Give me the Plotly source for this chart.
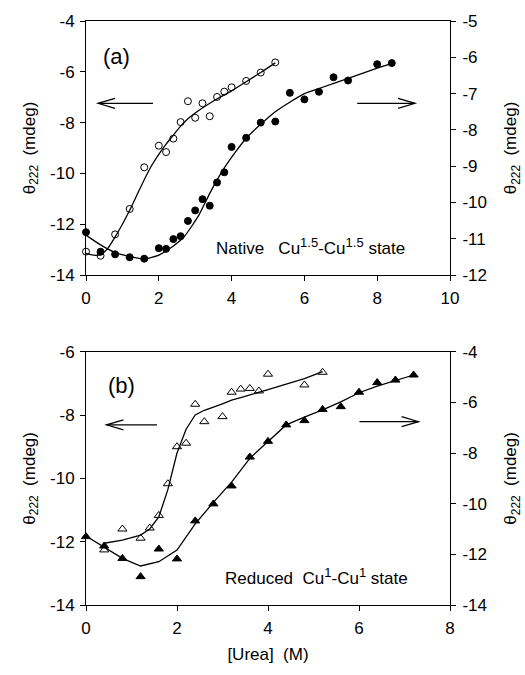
import plotly.graph_objects as go

# ---------------- data ----------------
# Panel (a): native Cu1.5-Cu1.5 state
a_open_x = [0, 0.4, 0.8, 1.2, 1.6, 2.0, 2.2, 2.4, 2.6, 2.8, 3.0, 3.2, 3.4, 3.6, 3.8, 4.0, 4.4, 4.8, 5.2]
a_open_y = [-13.08, -13.24, -12.40, -11.40, -9.76, -8.91, -9.16, -8.63, -7.98, -7.16, -7.81, -7.24, -7.75,
            -6.99, -6.78, -6.61, -6.36, -6.03, -5.63]
a_fit_open_x = [0, 0.2, 0.4, 0.6, 0.8, 1.0, 1.2, 1.4, 1.6, 1.8, 2.0, 2.2, 2.4, 2.6, 2.8, 3.0, 3.5, 4.0, 4.4, 4.8, 5.2]
a_fit_open_y = [-13.15, -13.22, -13.2, -12.95, -12.5, -12.0, -11.45, -10.85, -10.25, -9.7, -9.25, -8.85, -8.49,
                -8.14, -7.85, -7.62, -7.15, -6.75, -6.39, -6.03, -5.65]

a_fill_x = [0, 0.4, 0.8, 1.2, 1.6, 2.0, 2.2, 2.4, 2.6, 2.8, 3.0, 3.2, 3.4, 3.6, 3.8, 4.0, 4.4, 4.8, 5.2, 5.6,
            6.0, 6.4, 6.8, 7.2, 8.0, 8.4]
a_fill_y = [-10.82, -11.36, -11.43, -11.51, -11.55, -11.26, -11.28, -11.01, -10.93, -10.51, -10.22, -9.91, -10.09,
            -9.45, -9.17, -8.47, -8.22, -7.80, -7.77, -6.98, -7.16, -6.95, -6.55, -6.64, -6.19, -6.16]
a_fit_fill_x = [0, 0.4, 0.8, 1.2, 1.6, 2.0, 2.4, 2.7, 3.1, 3.4, 3.8, 4.4, 5.2, 6.0, 6.4, 7.2, 8.0, 8.4]
a_fit_fill_y = [-10.9, -11.17, -11.38, -11.49, -11.56, -11.45, -11.2, -10.94, -10.35, -9.75, -9.05, -8.23, -7.5,
                -7.0, -6.86, -6.58, -6.3, -6.17]

# Panel (b): reduced Cu1-Cu1 state
b_open_x = [0.4, 0.8, 1.2, 1.4, 1.6, 1.8, 2.0, 2.2, 2.4, 2.6, 3.0, 3.2, 3.4, 3.6, 3.8, 4.0, 4.8, 5.2]
b_open_y = [-12.26, -11.60, -11.89, -11.57, -11.17, -10.17, -9.0, -8.89, -7.66, -8.21, -8.05, -7.28, -7.18,
            -7.16, -7.24, -6.71, -7.05, -6.65]
b_fit_open_x = [0.4, 0.8, 1.2, 1.4, 1.6, 1.8, 2.0, 2.2, 2.4, 2.6, 3.0, 3.2, 3.4, 3.6, 3.8, 4.0, 4.8, 5.2]
b_fit_open_y = [-12.05, -11.95, -11.79, -11.6, -11.22, -10.35, -9.2, -8.45, -8.0, -7.85, -7.65, -7.53, -7.45,
                -7.37, -7.28, -7.2, -6.85, -6.63]

b_fill_x = [0, 0.4, 0.8, 1.2, 1.6, 2.0, 2.4, 2.8, 3.2, 3.6, 4.0, 4.4, 4.8, 5.2, 5.6, 6.0, 6.4, 6.8, 7.2]
b_fill_y = [-11.30, -11.67, -12.16, -12.88, -11.79, -12.18, -10.68, -10.01, -9.30, -8.16, -7.54, -6.89, -6.72,
            -6.28, -6.17, -5.60, -5.22, -5.12, -4.92]
b_fit_fill_x = [0, 0.4, 0.8, 1.2, 1.6, 2.0, 2.4, 2.8, 3.2, 3.6, 4.0, 4.4, 4.8, 5.2, 5.6, 6.0, 6.4, 6.8, 7.2]
b_fit_fill_y = [-11.28, -11.72, -12.16, -12.46, -12.29, -11.83, -10.8, -9.95, -9.15, -8.21, -7.55, -6.89, -6.58,
                -6.30, -5.98, -5.62, -5.36, -5.14, -4.92]

# axis ranges and tick labels (hyphen minus as in the original)
a_x_range = [0, 10]
a_yl_range = [-14, -4]
a_yr_range = [-12, -5]
b_x_range = [0, 8]
b_yl_range = [-14, -6]
b_yr_range = [-14, -4]

a_x_ticks = [0, 2, 4, 6, 8, 10]
b_x_ticks = [0, 2, 4, 6, 8]
a_yl_ticks = [-14, -12, -10, -8, -6, -4]
a_yr_ticks = [-12, -11, -10, -9, -8, -7, -6, -5]
b_yl_ticks = [-14, -12, -10, -8, -6]
b_yr_ticks = [-14, -12, -10, -8, -6, -4]

FONT = "Liberation Sans, Arial, Helvetica, sans-serif"
BLACK = "black"

def lbl(v):
    return str(v)

fig = go.Figure()

def marker_trace(x, y, symbol, xa, ya, size=7):
    return go.Scatter(x=x, y=y, mode="markers", xaxis=xa, yaxis=ya, cliponaxis=False,
                      marker=dict(symbol=symbol, size=size, color=BLACK,
                                  line=dict(color=BLACK, width=1)),
                      showlegend=False, hoverinfo="skip")

def line_trace(x, y, xa, ya, shape="linear"):
    return go.Scatter(x=x, y=y, mode="lines", xaxis=xa, yaxis=ya, cliponaxis=False,
                      line=dict(color=BLACK, width=1.3, shape=shape, smoothing=0.6),
                      showlegend=False, hoverinfo="skip")

# panel (a)
fig.add_trace(line_trace(a_fit_open_x, a_fit_open_y, "x", "y", "spline"))
fig.add_trace(marker_trace(a_open_x, a_open_y, "circle-open", "x", "y"))
fig.add_trace(line_trace(a_fit_fill_x, a_fit_fill_y, "x", "y2", "spline"))
fig.add_trace(marker_trace(a_fill_x, a_fill_y, "circle", "x", "y2"))
# panel (b)
fig.add_trace(line_trace(b_fit_open_x, b_fit_open_y, "x2", "y3"))
fig.add_trace(marker_trace(b_open_x, b_open_y, "triangle-up-open", "x2", "y3", 8))
fig.add_trace(line_trace(b_fit_fill_x, b_fit_fill_y, "x2", "y4"))
fig.add_trace(marker_trace(b_fill_x, b_fill_y, "triangle-up", "x2", "y4", 8))

# ---------------- layout ----------------
W, H = 525, 675
ML, MR, MT, MB = 86, 75, 21, 70
PW = W - ML - MR
PH = H - MT - MB
a_dom = [(605 - 275) / PH, 1.0]
b_dom = [0.0, (605 - 351.7) / PH]

tickfont = dict(family=FONT, size=17, color=BLACK)
titlefont = dict(family=FONT, size=17, color=BLACK)

def xax(rng, anchor, ticks, title=None):
    d = dict(range=rng, domain=[0, 1], anchor=anchor, showgrid=False, zeroline=False,
             showline=True, linecolor=BLACK, linewidth=1, mirror=True,
             ticks="outside", ticklen=5, tickwidth=1, tickcolor=BLACK,
             tickmode="array", tickvals=ticks, ticktext=[lbl(t) for t in ticks],
             tickfont=tickfont, ticklabelstandoff=3, automargin=False)
    if title:
        d["title"] = dict(text=title, font=titlefont, standoff=10)
    return d

def yax(rng, dom, anchor, side, ticks, standoff, tls, overlaying=None):
    d = dict(range=rng, domain=dom, anchor=anchor, side=side, showgrid=False, zeroline=False,
             showline=True, linecolor=BLACK, linewidth=1,
             ticks="outside", ticklen=5, tickwidth=1, tickcolor=BLACK,
             tickmode="array", tickvals=ticks, ticktext=[lbl(t) for t in ticks],
             tickfont=tickfont, automargin=False, ticklabelstandoff=tls,
             title=dict(text="θ<sub>222</sub>  (mdeg)", font=titlefont, standoff=standoff))
    if overlaying:
        d["overlaying"] = overlaying
    return d

fig.update_layout(
    width=W, height=H, autosize=False,
    margin=dict(l=ML, r=MR, t=MT, b=MB, pad=0),
    paper_bgcolor="white", plot_bgcolor="white",
    font=dict(family=FONT, color=BLACK),
    xaxis=xax(a_x_range, "y", a_x_ticks),
    xaxis2=xax(b_x_range, "y3", b_x_ticks, "[Urea]  (M)"),
    yaxis=yax(a_yl_range, a_dom, "x", "left", a_yl_ticks, 10, 2),
    yaxis2=yax(a_yr_range, a_dom, "x", "right", a_yr_ticks, 18, 3, "y"),
    yaxis3=yax(b_yl_range, b_dom, "x2", "left", b_yl_ticks, 10, 2),
    yaxis4=yax(b_yr_range, b_dom, "x2", "right", b_yr_ticks, 18, 3, "y3"),
)

SUP = "<sup><span style='font-size:13px'>{}</span></sup>"

# panel labels and state texts
fig.add_annotation(x=0.85, y=-5.38, xref="x", yref="y", text="(a)", showarrow=False,
                   font=dict(family=FONT, size=22, color=BLACK))
fig.add_annotation(x=0.77, y=-7.08, xref="x2", yref="y3", text="(b)", showarrow=False,
                   font=dict(family=FONT, size=22, color=BLACK))
fig.add_annotation(x=3.52, y=-12.86, xref="x", yref="y", xanchor="left",
                   text="Native   Cu" + SUP.format("1.5") + "-Cu" + SUP.format("1.5") + " state",
                   showarrow=False, font=dict(family=FONT, size=17, color=BLACK))
fig.add_annotation(x=3.01, y=-13.1, xref="x2", yref="y3", xanchor="left",
                   text="Reduced  Cu" + SUP.format("1") + "-Cu" + SUP.format("1") + " state",
                   showarrow=False, font=dict(family=FONT, size=17, color=BLACK))

# arrows with open V heads
def arrow(x0, x1, y, xref, yref, xrng, yrng, ph):
    sx = (xrng[1] - xrng[0]) / PW
    sy = (yrng[1] - yrng[0]) / ph
    dirn = 1 if x1 > x0 else -1
    back = x1 - dirn * 17 * sx
    dy = 5 * sy
    ln = dict(color=BLACK, width=1.2)
    fig.add_shape(type="line", x0=x0, x1=x1, y0=y, y1=y, xref=xref, yref=yref, line=ln)
    fig.add_shape(type="path", path=f"M {back},{y + dy} L {x1},{y} L {back},{y - dy}",
                  xref=xref, yref=yref, line=ln)

ph_a = 254
ph_b = 253.3
arrow(1.84, 0.33, -7.24, "x", "y", a_x_range, a_yl_range, ph_a)
arrow(7.45, 9.04, -7.24, "x", "y", a_x_range, a_yl_range, ph_a)
arrow(1.56, 0.45, -8.31, "x2", "y3", b_x_range, b_yl_range, ph_b)
arrow(6.01, 7.31, -8.21, "x2", "y3", b_x_range, b_yl_range, ph_b)

fig.write_html("out.html")
